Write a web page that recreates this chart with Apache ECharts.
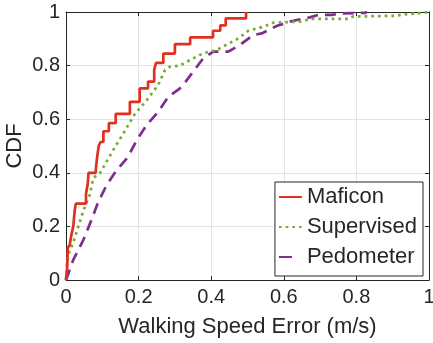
<!DOCTYPE html>
<html>
<head>
<meta charset="utf-8">
<script src="https://cdn.jsdelivr.net/npm/echarts@6/dist/echarts.min.js"></script>
<style>
html,body{margin:0;padding:0;background:#fff;}
#c{width:433px;height:343px;}
</style>
</head>
<body>
<div id="c"></div>
<script>
// ---- data ----
const seriesNames = ['Maficon', 'Supervised', 'Pedometer'];
const xTickLabels = ['0', '0.2', '0.4', '0.6', '0.8', '1'];
const yTickLabels = ['0', '0.2', '0.4', '0.6', '0.8', '1'];

// Maficon: empirical CDF (step)
const maficonX = [0, 0.003, 0.005, 0.010, 0.015, 0.020, 0.024, 0.027, 0.055, 0.060, 0.062, 0.082, 0.085, 0.090, 0.095, 0.103, 0.118, 0.137, 0.176, 0.203, 0.226, 0.243, 0.248, 0.268, 0.300, 0.342, 0.405, 0.425, 0.440, 0.496];
const maficonY = [0, 0.04, 0.12, 0.13, 0.17, 0.20, 0.26, 0.285, 0.32, 0.36, 0.40, 0.41, 0.45, 0.50, 0.515, 0.555, 0.585, 0.62, 0.665, 0.715, 0.74, 0.785, 0.81, 0.845, 0.88, 0.905, 0.93, 0.95, 0.976, 1.0];

// Supervised
const supervisedX = [0, 0.004, 0.020, 0.034, 0.048, 0.066, 0.075, 0.094, 0.107, 0.130, 0.158, 0.190, 0.222, 0.254, 0.273, 0.287, 0.314, 0.340, 0.378, 0.415, 0.452, 0.470, 0.493, 0.502, 0.544, 0.571, 0.649, 0.672, 0.778, 0.790, 0.910, 0.930, 0.970, 1.0];
const supervisedY = [0, 0.087, 0.14, 0.20, 0.26, 0.32, 0.38, 0.40, 0.43, 0.485, 0.547, 0.62, 0.67, 0.728, 0.784, 0.796, 0.80, 0.82, 0.846, 0.858, 0.885, 0.898, 0.92, 0.93, 0.945, 0.96, 0.964, 0.974, 0.974, 0.983, 0.986, 0.991, 0.995, 1.0];

// Pedometer
const pedometerX = [0, 0.002, 0.020, 0.048, 0.070, 0.089, 0.112, 0.137, 0.170, 0.195, 0.222, 0.254, 0.282, 0.314, 0.323, 0.350, 0.378, 0.406, 0.447, 0.479, 0.516, 0.539, 0.562, 0.580, 0.617, 0.636, 0.672, 0.695, 0.732, 0.760, 0.824, 0.830];
const pedometerY = [0, 0.007, 0.075, 0.15, 0.224, 0.292, 0.354, 0.405, 0.458, 0.522, 0.578, 0.628, 0.684, 0.715, 0.728, 0.777, 0.827, 0.852, 0.852, 0.877, 0.914, 0.92, 0.935, 0.948, 0.964, 0.97, 0.98, 0.989, 0.989, 0.995, 0.997, 1.0];

const zip = (xs, ys) => xs.map((x, i) => [x, ys[i]]);

const FONT = 'Liberation Sans, Arial, Helvetica, sans-serif';
const TXT = '#262626';
const AXC = '#262626';

const chart = echarts.init(document.getElementById('c'), null, {renderer: 'canvas'});

const baseAxis = {
  type: 'value', min: 0, max: 1, interval: 0.2
};

chart.setOption({
  animation: false,
  backgroundColor: '#fff',
  grid: {left: 66, right: 4, top: 12, bottom: 63, containLabel: false, outerBoundsMode: 'none'},
  xAxis: [
    Object.assign({}, baseAxis, {
      position: 'bottom',
      name: 'Walking Speed Error (m/s)',
      nameLocation: 'middle',
      nameGap: 36,
      nameMoveOverlap: false,
      nameTextStyle: {fontFamily: FONT, fontSize: 22, color: TXT},
      axisLine: {show: true, onZero: false, lineStyle: {color: AXC, width: 1}},
      axisTick: {show: true, inside: true, length: 4, lineStyle: {color: AXC}},
      axisLabel: {fontFamily: FONT, fontSize: 20, color: TXT, margin: 7,
        formatter: (v) => xTickLabels[Math.round(v / 0.2)]},
      splitLine: {show: true, lineStyle: {color: '#e3e3e3', width: 1}}
    }),
    Object.assign({}, baseAxis, {
      position: 'top',
      axisLine: {show: true, onZero: false, lineStyle: {color: AXC, width: 1}},
      axisTick: {show: true, inside: true, length: 4, lineStyle: {color: AXC}},
      axisLabel: {show: false},
      splitLine: {show: false}
    })
  ],
  yAxis: [
    Object.assign({}, baseAxis, {
      position: 'left',
      name: 'CDF',
      nameLocation: 'middle',
      nameGap: 40,
      nameMoveOverlap: false,
      nameRotate: 90,
      nameTextStyle: {fontFamily: FONT, fontSize: 22, color: TXT},
      axisLine: {show: true, onZero: false, lineStyle: {color: AXC, width: 1}},
      axisTick: {show: true, inside: true, length: 4, lineStyle: {color: AXC}},
      axisLabel: {fontFamily: FONT, fontSize: 20, color: TXT, margin: 6,
        formatter: (v) => yTickLabels[Math.round(v / 0.2)]},
      splitLine: {show: true, lineStyle: {color: '#e3e3e3', width: 1}}
    }),
    Object.assign({}, baseAxis, {
      position: 'right',
      axisLine: {show: true, onZero: false, lineStyle: {color: AXC, width: 1}},
      axisTick: {show: true, inside: true, length: 4, lineStyle: {color: AXC}},
      axisLabel: {show: false},
      splitLine: {show: false}
    })
  ],
  legend: {
    orient: 'vertical',
    right: 10,
    bottom: 67,
    backgroundColor: '#fff',
    borderColor: '#262626',
    borderWidth: 1,
    borderRadius: 0,
    padding: [1, 6, 5, 3],
    itemGap: 2,
    itemWidth: 23,
    itemHeight: 14,
    itemStyle: {opacity: 0},
    textStyle: {fontFamily: FONT, fontSize: 22, color: TXT, lineHeight: 28},
    data: [
      {name: seriesNames[0]},
      {name: seriesNames[1]},
      {name: seriesNames[2], lineStyle: {type: [13, 20]}}
    ]
  },
  series: [
    {
      name: seriesNames[0], type: 'line', step: 'end', showSymbol: false, symbol: 'none',
      data: zip(maficonX, maficonY),
      lineStyle: {color: '#e0301e', width: 2.7},
      itemStyle: {color: '#e0301e'},
      z: 5
    },
    {
      name: seriesNames[1], type: 'line', showSymbol: false, symbol: 'none',
      data: zip(supervisedX, supervisedY),
      lineStyle: {color: '#77ac30', width: 2.7, type: [2.7, 4]},
      itemStyle: {color: '#77ac30'},
      z: 4
    },
    {
      name: seriesNames[2], type: 'line', showSymbol: false, symbol: 'none',
      data: zip(pedometerX, pedometerY),
      lineStyle: {color: '#7e2f8e', width: 2.7, type: [11, 7]},
      itemStyle: {color: '#7e2f8e'},
      z: 3
    }
  ]
});
</script>
</body>
</html>
